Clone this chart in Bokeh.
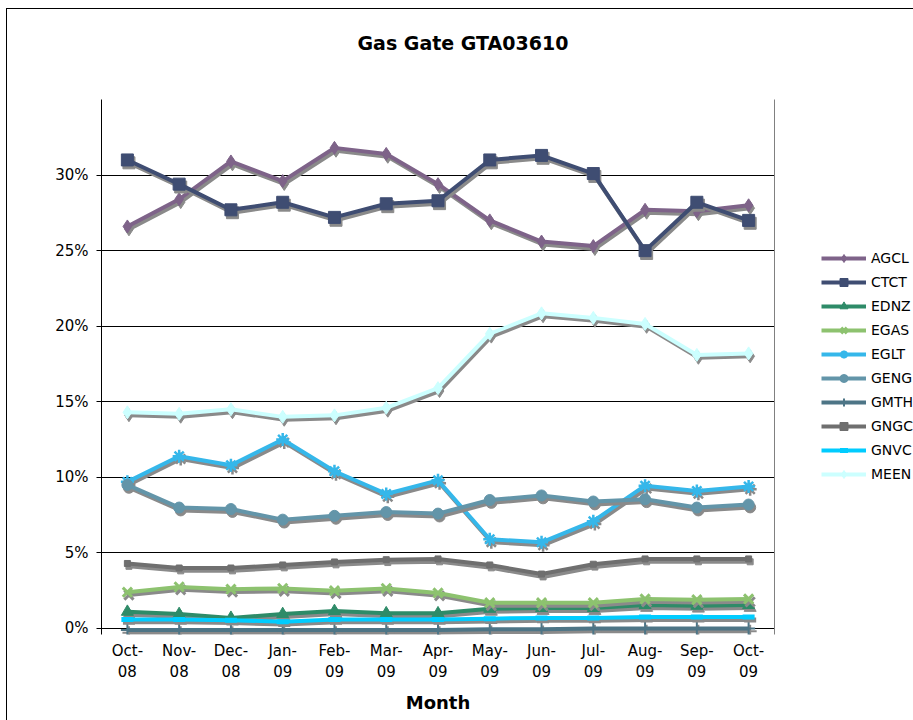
from bokeh.plotting import figure
from bokeh.layouts import row
from bokeh.models import (ColumnDataSource, Range1d, FactorRange, Legend, LegendItem,
                          NumeralTickFormatter, SingleIntervalTicker, FixedTicker, LinearAxis)
from bokeh.transform import dodge
from bokeh.embed import file_html
from bokeh.resources import INLINE

# ---- data (percent) ----
months = ["Oct-08", "Nov-08", "Dec-08", "Jan-09", "Feb-09", "Mar-09", "Apr-09",
          "May-09", "Jun-09", "Jul-09", "Aug-09", "Sep-09", "Oct-09"]
AGCL = [26.6, 28.4, 30.9, 29.6, 31.8, 31.4, 29.4, 27.0, 25.6, 25.3, 27.7, 27.6, 28.0]
CTCT = [31.0, 29.4, 27.7, 28.2, 27.2, 28.1, 28.3, 31.0, 31.3, 30.1, 25.0, 28.2, 27.0]
EDNZ = [1.1, 0.95, 0.7, 0.95, 1.15, 1.0, 1.0, 1.3, 1.35, 1.35, 1.55, 1.5, 1.55]
EGAS = [2.4, 2.75, 2.6, 2.65, 2.5, 2.65, 2.35, 1.7, 1.7, 1.7, 1.95, 1.9, 1.95]
EGLT = [9.7, 11.4, 10.8, 12.5, 10.4, 8.9, 9.8, 5.9, 5.7, 7.1, 9.45, 9.1, 9.4]
GENG = [9.5, 8.0, 7.9, 7.2, 7.45, 7.7, 7.6, 8.5, 8.8, 8.4, 8.55, 8.0, 8.2]
GMTH = [-0.1, -0.1, -0.1, -0.1, -0.1, -0.1, -0.1, -0.05, -0.05, 0.0, 0.0, 0.0, 0.0]
GNGC = [4.3, 4.0, 4.0, 4.2, 4.4, 4.55, 4.6, 4.2, 3.6, 4.25, 4.6, 4.6, 4.6]
GNVC = [0.6, 0.6, 0.55, 0.45, 0.6, 0.6, 0.6, 0.65, 0.7, 0.7, 0.75, 0.75, 0.75]
MEEN = [14.3, 14.2, 14.5, 14.0, 14.1, 14.6, 15.9, 19.5, 20.85, 20.55, 20.15, 18.1, 18.2]

names = ["AGCL", "CTCT", "EDNZ", "EGAS", "EGLT", "GENG", "GMTH", "GNGC", "GNVC", "MEEN"]
values = [AGCL, CTCT, EDNZ, EGAS, EGLT, GENG, GMTH, GNGC, GNVC, MEEN]

# ---- styles ----
colors = ["#7E6389", "#3F4D72", "#2E8B68", "#8DC26F", "#35B7EA",
          "#6395A9", "#4D7586", "#6F6F6F", "#00CCFF", "#CCFFFF"]
markers = ["diamond", "square", "triangle", "x", "asterisk",
           "circle", "cross", "square", "dash", "diamond"]
msizes = [13, 12, 12, 13, 13, 11, 13, 6, 12, 13]
mlw = [1, 1, 1, 3, 2.5, 1, 2, 1, 5, 1]
SHADOW = "#8a8a8a"
FONT = "DejaVu Sans"

labels = [m.replace("-", "-\n") for m in months]

y0, y1 = -0.004, 0.35
d = 0.0019
p = figure(width=769, height=711,
           x_range=FactorRange(*labels), y_range=Range1d(y0, y1),
           output_backend="svg", toolbar_location=None,
           min_border_left=94, min_border_right=2, min_border_top=90, min_border_bottom=86)
p.extra_y_ranges = {"shadow": Range1d(y0 + d, y1 + d)}

# legend-only companion figure (its data lies outside its view)
lp = figure(width=137, height=711, x_range=p.x_range, y_range=Range1d(10, 11),
            output_backend="svg", toolbar_location=None,
            x_axis_location=None, y_axis_location=None,
            min_border_left=0, min_border_right=0, min_border_top=0, min_border_bottom=0)
lp.grid.visible = False
lp.outline_line_color = None

p.title.text = "Gas Gate GTA03610\n"
p.title.align = "left"
p.title.vertical_align = "top"
p.title.standoff = 44
p.title.offset = 256
p.title.text_font = FONT
p.title.text_font_size = "19px"
p.title.text_font_style = "bold"
p.title.text_color = "black"

items = []
for name, vals, c, mk, ms, lw in zip(names, values, colors, markers, msizes, mlw):
    src = ColumnDataSource(dict(x=labels, y=[v / 100 for v in vals]))
    sx = dodge("x", 0.03, range=p.x_range)
    p.line(x=sx, y="y", source=src, y_range_name="shadow",
           line_color=SHADOW, line_width=4, line_join="round")
    p.scatter(x=sx, y="y", source=src, y_range_name="shadow", marker=mk, size=ms,
              fill_color=SHADOW, line_color=SHADOW, line_width=lw)
    p.line(x="x", y="y", source=src, line_color=c, line_width=4, line_join="round")
    p.scatter(x="x", y="y", source=src, marker=mk, size=ms,
              fill_color=c, line_color=c, line_width=lw)
    lr = lp.line(x="x", y="y", source=src, line_color=c, line_width=4)
    sr = lp.scatter(x="x", y="y", source=src, marker=mk, size=ms,
                    fill_color=c, line_color=c, line_width=lw)
    items.append(LegendItem(label=name, renderers=[lr, sr]))

# axes
p.yaxis.ticker = SingleIntervalTicker(interval=0.05, num_minor_ticks=0)
p.yaxis.formatter = NumeralTickFormatter(format="0%")
p.yaxis.major_label_text_font = FONT
p.yaxis.major_label_text_font_size = "15px"
p.yaxis.major_label_text_color = "black"
p.yaxis.axis_line_color = "black"
p.yaxis.major_tick_line_color = "black"
p.yaxis.major_tick_out = 5
p.yaxis.major_tick_in = 0
p.yaxis.minor_tick_line_color = None
p.yaxis.major_label_standoff = 8

p.xaxis.axis_line_color = None
p.xaxis.major_tick_line_color = None
p.xaxis.minor_tick_line_color = None
p.xaxis.major_tick_out = 0
p.xaxis.major_tick_in = 0
p.xaxis.major_label_text_font = FONT
p.xaxis.major_label_text_font_size = "15px"
p.xaxis.major_label_text_color = "black"
p.xaxis.major_label_standoff = 7
p.xaxis.axis_label = "Month"
p.xaxis.axis_label_text_font = FONT
p.xaxis.axis_label_text_font_size = "18px"
p.xaxis.axis_label_text_font_style = "bold"
p.xaxis.axis_label_text_color = "black"
p.xaxis.axis_label_standoff = 8

p.ygrid.ticker = SingleIntervalTicker(interval=0.05, num_minor_ticks=0)
p.ygrid.grid_line_color = "black"
p.xgrid.visible = False
p.outline_line_color = None

raxis = LinearAxis(ticker=FixedTicker(ticks=[]), axis_line_color="#808080",
                   major_tick_line_color=None, minor_tick_line_color=None,
                   major_tick_out=0, major_tick_in=0)
p.add_layout(raxis, "right")

legend = Legend(items=items, location=(45, 150), margin=0, padding=0,
                glyph_width=45, glyph_height=20, label_height=20, spacing=4,
                label_standoff=5, label_text_font=FONT, label_text_font_size="14px",
                label_text_color="black",
                border_line_color=None, background_fill_alpha=0)
lp.add_layout(legend)

layout = row(p, lp, styles={"border-left": "1px solid #000", "border-top": "1px solid #000",
                            "margin-left": "6px", "margin-top": "8px"})

open("out.html", "w").write(file_html(layout, INLINE))
